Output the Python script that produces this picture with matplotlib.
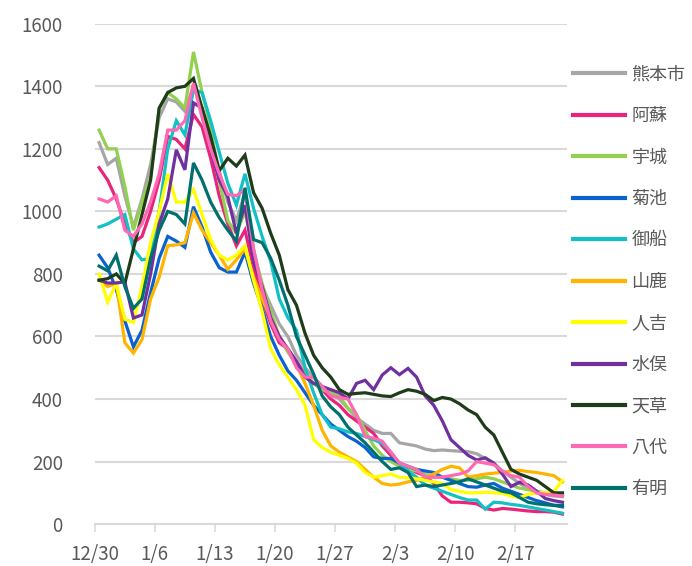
import numpy as np
import matplotlib
matplotlib.use("Agg")
import matplotlib.pyplot as plt

plt.rcParams["font.family"] = ["Noto Sans CJK JP", "DejaVu Sans"]

# daily values, 12/30 .. 2/22
kumamoto = [1220, 1150, 1170, 1050, 950, 1040, 1150, 1300, 1360, 1350, 1320, 1400, 1330, 1250,
            1130, 1030, 970, 1060, 880, 760, 700, 640, 600, 540, 500, 470, 440, 420, 400, 370,
            340, 320, 300, 290, 290, 260, 255, 250, 240, 235, 237, 235, 233, 232, 225, 210,
            195, 170, 150, 130, 115, 100, 95, 90, 88]
aso = [1140, 1100, 1040, 960, 900, 920, 1000, 1100, 1240, 1230, 1200, 1310, 1270, 1170,
       1050, 960, 890, 940, 820, 720, 640, 580, 560, 520, 480, 450, 430, 400, 380, 350,
       330, 310, 290, 250, 220, 195, 180, 165, 155, 130, 90, 70, 70, 68, 65, 50,
       45, 50, 48, 45, 42, 40, 40, 38, 32]
uki = [1260, 1200, 1200, 1080, 940, 1030, 1110, 1330, 1380, 1360, 1330, 1510, 1380, 1270,
       1100, 970, 930, 1000, 870, 770, 680, 600, 550, 510, 480, 450, 430, 420, 410, 370,
       350, 300, 250, 220, 200, 185, 175, 170, 160, 150, 150, 145, 140, 140, 145, 150,
       145, 135, 125, 115, 110, 105, 100, 95, 92]
kikuchi = [860, 820, 750, 650, 567, 620, 740, 850, 920, 905, 885, 1015, 950, 870,
           820, 806, 806, 870, 770, 690, 600, 540, 490, 460, 420, 380, 350, 320, 300, 280,
           265, 245, 215, 210, 210, 195, 185, 175, 170, 165, 150, 140, 130, 120, 118, 125,
           130, 115, 105, 95, 85, 75, 68, 60, 55]
mifune = [950, 960, 975, 990, 880, 845, 850, 1000, 1200, 1290, 1245, 1390, 1380, 1290,
          1190, 1090, 1020, 1120, 1010, 920, 840, 720, 660, 620, 500, 420, 350, 310, 305, 295,
          290, 280, 270, 258, 230, 195, 170, 150, 125, 115, 105, 95, 85, 77, 77, 48,
          70, 68, 63, 60, 55, 50, 45, 40, 35]
yamaga = [780, 760, 770, 580, 547, 590, 720, 790, 890, 893, 900, 995, 940, 900,
          860, 815, 845, 880, 790, 720, 660, 600, 560, 510, 450, 380, 300, 250, 230, 215,
          200, 175, 150, 130, 125, 128, 135, 140, 150, 160, 175, 185, 180, 150, 155, 160,
          163, 165, 170, 172, 168, 165, 160, 155, 135]
hitoyoshi = [800, 710, 770, 655, 645, 760, 900, 1000, 1120, 1030, 1030, 1070, 990, 910,
             860, 845, 860, 890, 780, 680, 560, 510, 470, 430, 380, 270, 245, 230, 220, 210,
             195, 165, 150, 155, 160, 150, 148, 145, 140, 135, 130, 110, 105, 100, 100, 102,
             100, 98, 90, 85, 95, 100, 100, 105, 140]
minamata = [780, 771, 771, 775, 659, 669, 800, 960, 1040, 1197, 1133, 1347, 1330, 1200,
            1100, 1047, 930, 1020, 840, 760, 660, 600, 560, 520, 470, 450, 440, 430, 420, 400,
            450, 460, 430, 477, 500, 478, 498, 470, 410, 380, 330, 270, 245, 220, 205, 212,
            195, 160, 120, 134, 125, 105, 82, 75, 70]
amakusa = [780, 785, 800, 770, 880, 990, 1100, 1330, 1380, 1395, 1400, 1425, 1330, 1240,
           1130, 1170, 1145, 1180, 1060, 1010, 930, 860, 750, 700, 610, 540, 500, 470, 430, 415,
           418, 420, 415, 410, 408, 420, 430, 425, 415, 395, 405, 400, 385, 365, 350, 310,
           285, 230, 175, 160, 150, 140, 120, 100, 100]
yatsushiro = [1040, 1030, 1050, 940, 920, 960, 1030, 1120, 1260, 1260, 1290, 1410, 1300, 1200,
              1120, 1055, 1050, 1070, 880, 750, 650, 590, 560, 500, 470, 470, 440, 410, 405, 400,
              350, 280, 275, 265, 230, 195, 185, 175, 150, 150, 150, 155, 160, 170, 200, 195,
              190, 170, 155, 150, 120, 100, 95, 93, 90]
ariake = [825, 810, 860, 760, 690, 720, 850, 940, 1000, 990, 960, 1155, 1100, 1030,
          980, 940, 905, 1075, 910, 900, 850, 780, 700, 600, 540, 480, 410, 375, 350, 310,
          285, 260, 230, 200, 175, 180, 165, 120, 125, 120, 125, 130, 135, 145, 135, 125,
          115, 105, 100, 85, 70, 65, 62, 60, 60]

names = ["熊本市", "阿蘇", "宇城", "菊池", "御船", "山鹿", "人吉", "水俣", "天草", "八代", "有明"]
series = [kumamoto, aso, uki, kikuchi, mifune, yamaga, hitoyoshi, minamata, amakusa, yatsushiro, ariake]
colors = ["#A6A6A6", "#E8257A", "#92D050", "#0A62D0", "#13C0C6", "#FFB400",
          "#FFFF00", "#7030A0", "#1E3B1A", "#FF69B4", "#00706E"]

tick_labels = ["12/30", "1/6", "1/13", "1/20", "1/27", "2/3", "2/10", "2/17"]

grid_c = "#D9D9D9"
text_c = "#595959"

fig = plt.figure(figsize=(6.92, 5.66), dpi=100)
ax = fig.add_axes([0.137, 0.074, 0.682, 0.884])

n_days = len(kumamoto)
x = np.arange(n_days) + 0.5  # points sit between the weekly tick marks
for name, vals, c in zip(names, series, colors):
    ax.plot(x, vals, color=c, lw=2.3, label=name, solid_joinstyle="miter")

ax.set_xlim(0, n_days)
ax.set_ylim(0, 1600)
ax.set_yticks(np.arange(0, 1601, 200))
ax.set_xticks(np.arange(len(tick_labels)) * 7)
ax.set_xticklabels(tick_labels)

ax.grid(axis="y", color=grid_c, lw=1.5)
ax.set_axisbelow(True)
for s in ["left", "right", "top"]:
    ax.spines[s].set_visible(False)
ax.spines["bottom"].set_color(grid_c)
ax.spines["bottom"].set_linewidth(1.5)
ax.tick_params(axis="y", length=0, pad=23, labelsize=13.5, labelcolor=text_c)
ax.tick_params(axis="x", length=6, width=1.2, color=grid_c, pad=8,
               labelsize=13.5, labelcolor=text_c)

leg = fig.legend(loc="upper left", bbox_to_anchor=(0.817, 0.897), frameon=False,
                 fontsize=13, labelcolor=text_c, handlelength=2.9, handletextpad=0.35,
                 labelspacing=1.3, borderaxespad=0)
for h in leg.get_lines():
    h.set_linewidth(3)

fig.savefig("out.png", dpi=100)
